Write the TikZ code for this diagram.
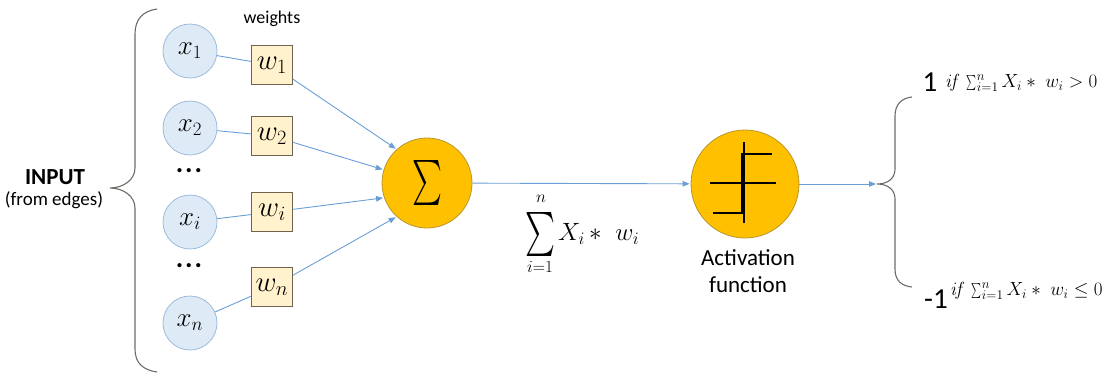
\RequirePackage{fix-cm}
\documentclass[tikz,border=0pt]{standalone}
\usepackage[no-math]{fontspec}
\setmainfont{Carlito}
\usepackage{graphicx}
\usetikzlibrary{arrows.meta}
\definecolor{inblue}{HTML}{DEEBF7}
\definecolor{inedge}{HTML}{9DBBDD}
\definecolor{wfill}{HTML}{FFF2CC}
\definecolor{wedge}{HTML}{6E6450}
\definecolor{gold}{HTML}{FFC000}
\definecolor{goldedge}{HTML}{B8962E}
\definecolor{link}{HTML}{6A9FD6}
\definecolor{bracec}{HTML}{6E6A66}
\newcommand{\slimsum}[2]{\mathop{\vcenter{\hbox{\resizebox*{#1}{#2}{$\sum$}}}}}
\tikzset{
  incirc/.style={circle, draw=inedge, fill=inblue, line width=0.8pt, minimum size=54pt, inner sep=0pt, font=\fontsize{27}{27}\selectfont},
  wbox/.style={rectangle, draw=wedge, fill=wfill, line width=0.9pt, minimum width=41pt, minimum height=39pt, inner sep=0pt, font=\fontsize{29}{29}\selectfont},
  goldcirc/.style={circle, draw=goldedge, fill=gold, line width=0.8pt, inner sep=0pt},
  link/.style={draw=link, line width=0.9pt},
  arr/.style={link, -{Triangle[length=7pt,width=5.5pt]}, shorten >=1pt},
  bracepath/.style={draw=bracec, line width=1.1pt},
  lbl/.style={inner sep=0pt},
  dotrow/.style={inner sep=0pt, font=\fontsize{28}{28}\selectfont\bfseries}
}
\begin{document}
\begin{tikzpicture}[x=1pt, y=-1pt]
\useasboundingbox (0,0) rectangle (1116,376);
% left brace
\draw[bracepath] (157,9) .. controls (143,11) and (135,19) .. (135,34) -- (135,168) .. controls (135,180) and (123,188) .. (110,188) .. controls (123,188) and (135,196) .. (135,208) -- (135,349) .. controls (135,363) and (143,370) .. (157,372);
\node[lbl, font=\fontsize{23}{23}\selectfont\bfseries] (inp) at (55,177) {INPUT};
\node[lbl, font=\fontsize{19}{19}\selectfont] (edg) at (54,200) {(from edges)};
\node[lbl, font=\fontsize{18}{18}\selectfont] (wt) at (272,19) {weights};
% inputs
\node[incirc] (x1) at (190,51) {$x_1$};
\node[incirc] (x2) at (190,128) {$x_2$};
\node[incirc] (xi) at (190,222) {$x_i$};
\node[incirc] (xn) at (190,323) {$x_n$};
\node[dotrow] (d1) at (189,171) {.\kern2pt.\kern2pt.};
\node[dotrow] (d2) at (189,266) {.\kern2pt.\kern2pt.};
% weights
\node[wbox] (w1) at (272,65) {$w_1$};
\node[wbox] (w2) at (272,136) {$w_2$};
\node[wbox] (wi) at (272,212) {$w_i$};
\node[wbox] (wn) at (272,287) {$w_n$};
\draw[link] (x1) -- (w1);
\draw[link] (x2) -- (w2);
\draw[link] (xi) -- (wi);
\draw[link] (xn) -- (wn);
% summation node
\node[goldcirc, minimum size=90pt] (sig) at (427,183) {\resizebox*{30pt}{45pt}{$\sum$}};
\draw[arr] (w1) -- (sig.132);
\draw[arr] (w2) -- (sig.163);
\draw[arr] (wi) -- (sig.199);
\draw[arr] (wn) -- (sig.228);
% activation node
\node[goldcirc, minimum size=108pt] (act) at (745,184) {};
\draw[black, line width=1.3pt] (710,183) -- (776,183);
\draw[black, line width=1.3pt] (744,142) -- (744,223);
\draw[black, line width=2.8pt] (713,213) -- (742.5,213) -- (742.5,154) -- (772,154);
\draw[arr] (sig) -- (act);
\node[lbl, align=center, font=\fontsize{23}{27}\selectfont] (actlbl) at (748,271) {Activation\\function};
% formula
\node[lbl] (fsum) at (540,234) {\resizebox*{30pt}{44pt}{$\sum$}};
\node[lbl, font=\fontsize{17}{17}\selectfont] (fn) at (541,199) {$n$};
\node[lbl, font=\fontsize{17}{17}\selectfont] (fi) at (540,267) {$i{=}1$};
\node[lbl, anchor=west, font=\fontsize{25}{25}\selectfont] (fx) at (558,234) {$X_i\,{*}\;\;w_i$};
% output brace
\coordinate (btip) at (877,184);
\draw[arr] (act) -- (btip);
\draw[bracepath] (912,97) .. controls (902,98) and (895,104) .. (895,116) -- (895,169) .. controls (895,179) and (887,184) .. (877,184) .. controls (887,184) and (895,189) .. (895,199) -- (895,269) .. controls (895,281) and (902,286) .. (912,287);
\node[lbl, font=\fontsize{29}{29}\selectfont] (one) at (930,82) {1};
\node[lbl, anchor=west, font=\fontsize{19}{19}\selectfont] (c1) at (945,83) {$\mathit{if}\,\slimsum{10pt}{15pt}\nolimits_{i=1}^{n} X_i *\; w_i > 0$};
\node[lbl, font=\fontsize{29}{29}\selectfont] (mone) at (936,299) {-1};
\node[lbl, anchor=west, font=\fontsize{19}{19}\selectfont] (c2) at (950,291) {$\mathit{if}\,\slimsum{10pt}{15pt}\nolimits_{i=1}^{n} X_i *\; w_i \le 0$};
\end{tikzpicture}
\end{document}
